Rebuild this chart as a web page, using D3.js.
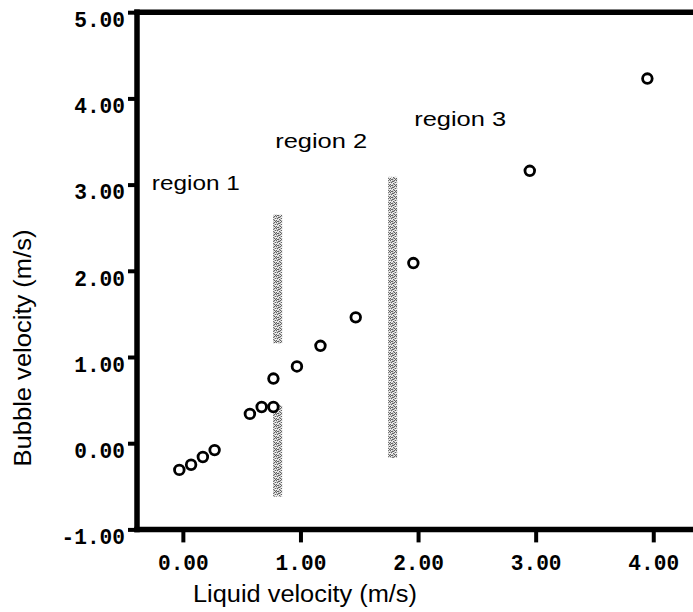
<!DOCTYPE html>
<html>
<head>
<meta charset="utf-8">
<script src="https://cdn.jsdelivr.net/npm/d3@7"></script>
<style>
  html, body { margin: 0; padding: 0; background: #fff; }
  svg { display: block; }
</style>
</head>
<body>
<svg id="chart" width="693" height="612"></svg>
<script>
// Measured bubble rise velocity against liquid velocity (m/s)
const liquidVelocity = [-0.03, 0.07, 0.17, 0.27, 0.57, 0.67, 0.77, 0.77, 0.97, 1.17, 1.47, 1.96, 2.95, 3.95];
const bubbleVelocity = [-0.31, -0.25, -0.16, -0.08, 0.34, 0.42, 0.42, 0.75, 0.89, 1.13, 1.46, 2.09, 3.16, 4.23];

const xTicks = [0, 1, 2, 3, 4];
const yTicks = [-1, 0, 1, 2, 3, 4, 5];

// Shaded regime boundaries: liquid velocity and vertical extent (m/s)
const boundaryX  = [0.806, 0.806, 1.784];
const boundaryY0 = [1.16, -0.62, -0.17];
const boundaryY1 = [2.65, 0.44, 3.09];

const regionLabels = ["region 1", "region 2", "region 3"];
const regionLabelX = [-0.264, 0.785, 1.967];
const regionLabelY = [2.94, 3.42, 3.68];

const svg = d3.select("#chart");

const x = d3.scaleLinear().domain([-0.39, 4.4]).range([137, 700.3]);
const y = d3.scaleLinear().domain([-1, 5]).range([529.4, 12.2]);

const monoFont = "'Liberation Mono', 'DejaVu Sans Mono', monospace";
const sansFont = "'Liberation Sans', Arial, sans-serif";
const charWidth = 12.7;

// stippled grey fill for the boundary bands
const defs = svg.append("defs");
const pat = defs.append("pattern")
  .attr("id", "stipple")
  .attr("patternUnits", "userSpaceOnUse")
  .attr("width", 6).attr("height", 6);
pat.append("rect").attr("width", 6).attr("height", 6).attr("fill", "#c6c6c6");
const darkDots = [[0,0],[2,1],[4,0],[1,2],[3,3],[5,2],[0,4],[2,5],[4,4],[5,5],[1,5],[3,1]];
const lightDots = [[1,0],[3,2],[5,1],[0,3],[2,3],[4,5],[1,4],[5,3]];
pat.selectAll("rect.d").data(darkDots).join("rect")
  .attr("class", "d").attr("x", d => d[0]).attr("y", d => d[1])
  .attr("width", 1).attr("height", 1).attr("fill", "#626262");
pat.selectAll("rect.l").data(lightDots).join("rect")
  .attr("class", "l").attr("x", d => d[0]).attr("y", d => d[1])
  .attr("width", 1).attr("height", 1).attr("fill", "#f4f4f4");

// boundary bands
const bands = boundaryX.map((bx, i) => ({ x: bx, y0: boundaryY0[i], y1: boundaryY1[i] }));
svg.append("g").selectAll("rect").data(bands).join("rect")
  .attr("x", d => x(d.x) - 4.5)
  .attr("width", 9)
  .attr("y", d => y(d.y1))
  .attr("height", d => y(d.y0) - y(d.y1))
  .attr("fill", "url(#stipple)");

function styleTickText(sel) {
  sel.attr("fill", "#000")
    .attr("textLength", function () { return this.textContent.length * charWidth; })
    .attr("lengthAdjust", "spacingAndGlyphs")
    .style("font-family", monoFont)
    .style("font-weight", "bold")
    .style("font-size", "22.5px");
}

// y axis
const yAxis = svg.append("g")
  .attr("transform", `translate(${x(-0.39)},0)`)
  .call(d3.axisLeft(y).tickValues(yTicks).tickFormat(d => d.toFixed(2)).tickSize(9).tickSizeOuter(0).tickPadding(3));
yAxis.select(".domain").remove();
yAxis.selectAll(".tick line").attr("stroke", "#000").attr("stroke-width", 4);
yAxis.selectAll(".tick text").attr("dy", "14.3px").call(styleTickText);

// x axis
const xAxis = svg.append("g")
  .attr("transform", `translate(0,${y(-1)})`)
  .call(d3.axisBottom(x).tickValues(xTicks).tickFormat(d => d.toFixed(2)).tickSize(13).tickSizeOuter(0).tickPadding(12));
xAxis.select(".domain").remove();
xAxis.selectAll(".tick line").attr("stroke", "#000").attr("stroke-width", 4);
xAxis.selectAll(".tick text").call(styleTickText);

// heavy frame: left, top and bottom edges
const [xl, xr] = x.range();
const [yb, yt] = y.range();
const frame = svg.append("g").attr("stroke", "#000").attr("stroke-width", 5.5).attr("stroke-linecap", "square");
frame.append("line").attr("x1", xl).attr("x2", xl).attr("y1", yt).attr("y2", yb);
frame.append("line").attr("x1", xl).attr("x2", xr).attr("y1", yt).attr("y2", yt);
frame.append("line").attr("x1", xl).attr("x2", xr).attr("y1", yb).attr("y2", yb);

// data points
const points = liquidVelocity.map((v, i) => ({ x: v, y: bubbleVelocity[i] }));
svg.append("g").selectAll("circle").data(points).join("circle")
  .attr("cx", d => x(d.x))
  .attr("cy", d => y(d.y))
  .attr("r", 4.8)
  .attr("fill", "#fff")
  .attr("stroke", "#000")
  .attr("stroke-width", 2.8);

// region annotations
const labelWidths = [88, 92, 92];
svg.append("g").selectAll("text").data(regionLabels).join("text")
  .attr("x", (d, i) => x(regionLabelX[i]))
  .attr("y", (d, i) => y(regionLabelY[i]))
  .attr("textLength", (d, i) => labelWidths[i])
  .attr("lengthAdjust", "spacingAndGlyphs")
  .style("font-family", sansFont)
  .style("font-size", "20.5px")
  .attr("fill", "#000")
  .text(d => d);

// axis titles
svg.append("text")
  .attr("x", 305).attr("y", 602)
  .attr("text-anchor", "middle")
  .attr("textLength", 224).attr("lengthAdjust", "spacingAndGlyphs")
  .style("font-family", sansFont)
  .style("font-size", "23px")
  .attr("fill", "#000")
  .text("Liquid velocity (m/s)");

svg.append("text")
  .attr("transform", "translate(31,348) rotate(-90)")
  .attr("text-anchor", "middle")
  .attr("textLength", 237).attr("lengthAdjust", "spacingAndGlyphs")
  .style("font-family", sansFont)
  .style("font-size", "23px")
  .attr("fill", "#000")
  .text("Bubble velocity (m/s)");
</script>
</body>
</html>
